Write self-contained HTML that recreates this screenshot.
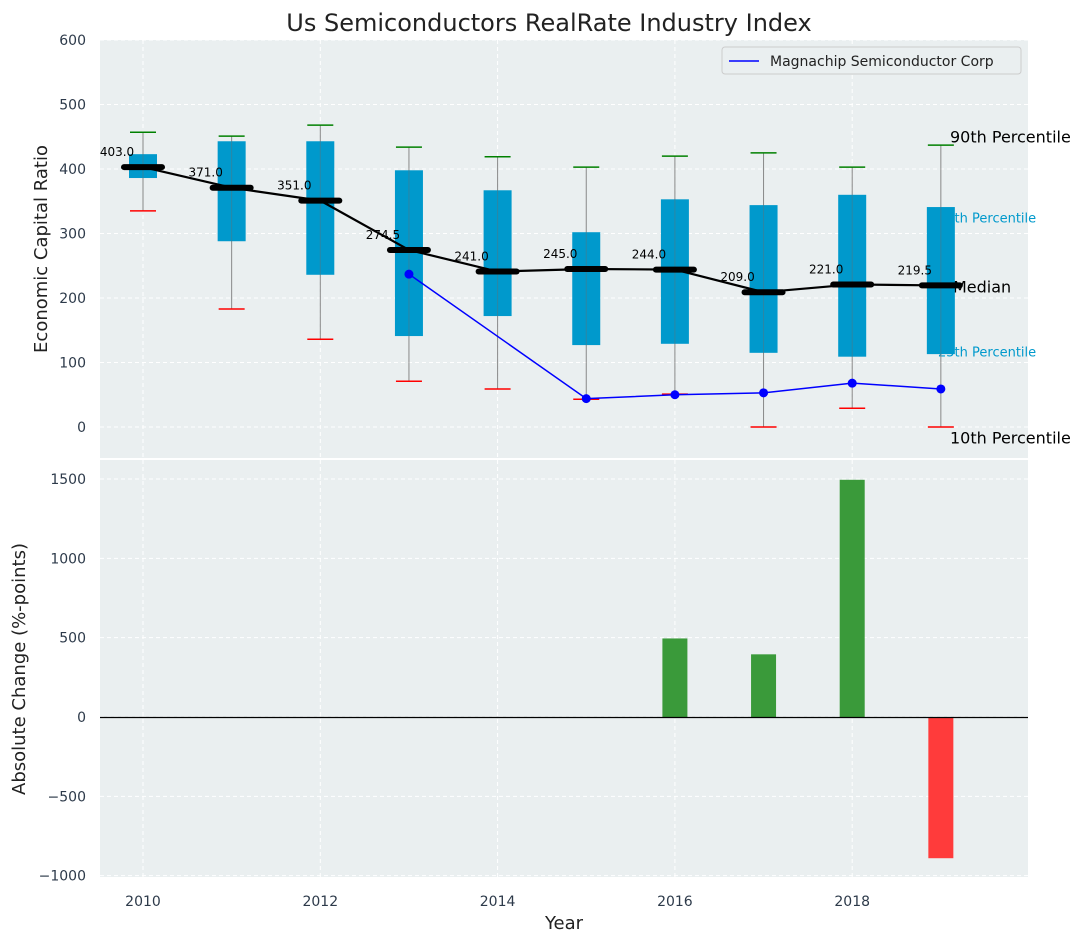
<!DOCTYPE html>
<html><head><meta charset="utf-8"><style>
body{margin:0;background:#fff;}
svg{display:block;font-family:"DejaVu Sans","Liberation Sans",sans-serif;}
.tick{font-size:14px;fill:#2d3a4a;}
</style></head><body>
<svg id="chart" width="1085" height="942" xmlns="http://www.w3.org/2000/svg"></svg>
<script>
const years=[2010,2011,2012,2013,2014,2015,2016,2017,2018,2019];
const q25=[386,288,236,141,172,127,129,115,109,113];
const q75=[423,443,443,398,367,302,353,344,360,341];
const p10=[335,183,136,71,59,43,51,0,29,0];
const p90=[457,451,468,434,419,403,420,425,403,437];
const medians=[403,371,351,274.5,241,245,244,209,221,219.5];
const companyYears=[2013,2015,2016,2017,2018,2019];
const companyVals=[237,44,50,53,68,59];
const changeYears=[2016,2017,2018,2019];
const changeVals=[495,395,1495,-890];
const topTicks=[0,100,200,300,400,500,600];
const botTicks=[-1000,-500,0,500,1000,1500];
const xTicks=[2010,2012,2014,2016,2018];

const svg=document.getElementById('chart');
const NS='http://www.w3.org/2000/svg';
function el(t,a,txt){const e=document.createElementNS(NS,t);for(const k in a)e.setAttribute(k,a[k]);if(txt!==undefined)e.textContent=txt;svg.appendChild(e);return e;}
const X=v=>143+(v-2010)*88.65;
const Y1=v=>427-v*0.645;
const Y2=v=>717-v*0.15867;

let e;
e=el('rect',{x:100,y:40,width:928,height:418,fill:'#eaeff0'});

e=el('rect',{x:100,y:460,width:928,height:417,fill:'#eaeff0'});

xTicks.forEach(t=>{
 e=el('line',{x1:X(t),x2:X(t),y1:40,y2:458,stroke:'#fff','stroke-dasharray':'4,3','stroke-width':1});
 
 e=el('line',{x1:X(t),x2:X(t),y1:460,y2:877,stroke:'#fff','stroke-dasharray':'4,3','stroke-width':1});
 
 e=el('text',{x:X(t),y:906,'text-anchor':'middle',class:'tick'},t);
 
});
topTicks.forEach(t=>{
 e=el('line',{x1:100,x2:1028,y1:Y1(t),y2:Y1(t),stroke:'#fff','stroke-dasharray':'4,3'});
 
 e=el('text',{x:86,y:Y1(t)+5,'text-anchor':'end',class:'tick'},t);
 
});
botTicks.forEach(t=>{
 e=el('line',{x1:100,x2:1028,y1:Y2(t),y2:Y2(t),stroke:'#fff','stroke-dasharray':'4,3'});
 
 e=el('text',{x:86,y:Y2(t)+5,'text-anchor':'end',class:'tick'},String(t).replace('-','\u2212'));
 
});
const last=years.length-1;
const ann=[['90th Percentile',950,p90[last]+12,'#000',16],['75th Percentile',938,q75[last]-16,'#0099cc',13],['Median',953,medians[last]-3,'#000',16],['25th Percentile',938,q25[last]+4,'#0099cc',13],['10th Percentile',950,p10[last]-18,'#000',16]];
ann.forEach(a=>{e=el('text',{x:a[1],y:Y1(a[2])+5,fill:a[3],'font-size':a[4]},a[0]);
 });
years.forEach((yr,i)=>{
 const x=X(yr);
 e=el('line',{x1:x,x2:x,y1:Y1(p90[i]),y2:Y1(p10[i]),stroke:'#888','stroke-width':1});
 
 e=el('rect',{x:x-14,y:Y1(q75[i]),width:28,height:Y1(q25[i])-Y1(q75[i]),fill:'#0099cc'});
 
 e=el('line',{x1:x,x2:x,y1:Y1(q75[i]),y2:Y1(q25[i]),stroke:'#4a7a8a','stroke-width':1,opacity:0.6});
 
 e=el('line',{x1:x-13,x2:x+13,y1:Y1(p90[i]),y2:Y1(p90[i]),stroke:'green','stroke-width':1.5});
 
 e=el('line',{x1:x-13,x2:x+13,y1:Y1(p10[i]),y2:Y1(p10[i]),stroke:'red','stroke-width':1.5});
 
});
e=el('polyline',{points:years.map((y,i)=>X(y)+','+Y1(medians[i])).join(' '),fill:'none',stroke:'#000','stroke-width':2.2});

years.forEach((yr,i)=>{
 const x=X(yr);
 e=el('line',{x1:x-19,x2:x+19,y1:Y1(medians[i]),y2:Y1(medians[i]),stroke:'#000','stroke-width':6,'stroke-linecap':'round'});
 
 e=el('text',{x:x-26,y:Y1(medians[i])-11,'text-anchor':'middle','font-size':12,fill:'#000'},medians[i].toFixed(1));
 
});
e=el('polyline',{points:companyYears.map((y,i)=>X(y)+','+Y1(companyVals[i])).join(' '),fill:'none',stroke:'blue','stroke-width':1.5});

companyYears.forEach((y,i)=>{e=el('circle',{cx:X(y),cy:Y1(companyVals[i]),r:4.5,fill:'blue'});
 });
e=el('rect',{x:722,y:47,width:299,height:27,fill:'#eaeff0',stroke:'#ccc',rx:3});

e=el('line',{x1:729,x2:759,y1:61,y2:61,stroke:'blue','stroke-width':1.5});

e=el('text',{x:770,y:66,'font-size':14,fill:'#222'},'Magnachip Semiconductor Corp');

changeYears.forEach((y,i)=>{const v=changeVals[i];
 e=el('rect',{x:X(y)-12.5,y:Math.min(Y2(v),Y2(0)),width:25,height:Math.abs(Y2(v)-Y2(0)),fill:v>=0?'#3a9a3a':'#ff3b3b'});
 });
e=el('line',{x1:100,x2:1028,y1:Y2(0)+0.5,y2:Y2(0)+0.5,stroke:'#000','stroke-width':1.2});

e=el('text',{x:549,y:31,'text-anchor':'middle','font-size':24,fill:'#222'},'Us Semiconductors RealRate Industry Index');

e=el('text',{x:564,y:929,'text-anchor':'middle','font-size':18,fill:'#222'},'Year');

e=el('text',{x:47,y:249,'text-anchor':'middle','font-size':18,fill:'#222',transform:'rotate(-90 47 249)'},'Economic Capital Ratio');

e=el('text',{x:25,y:669,'text-anchor':'middle','font-size':18,fill:'#222',transform:'rotate(-90 25 669)'},'Absolute Change (%-points)');

</script>
</body></html>
